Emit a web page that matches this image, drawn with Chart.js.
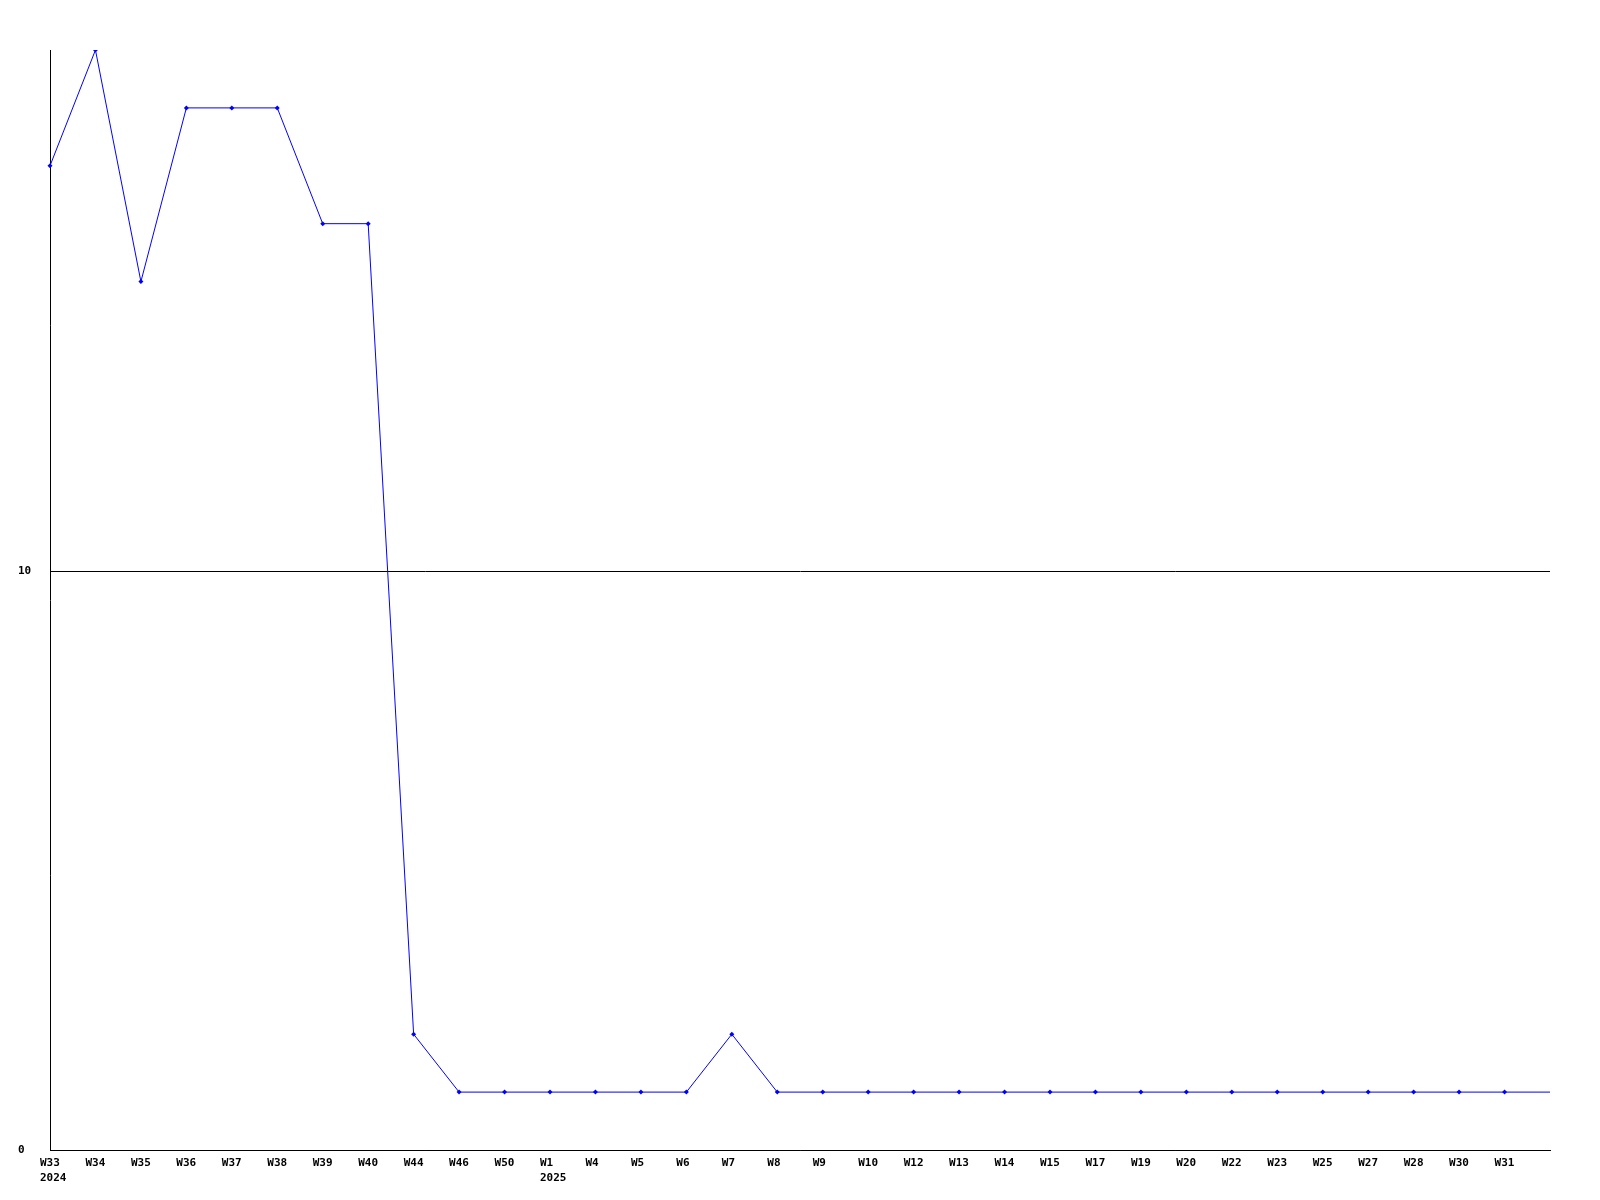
<!DOCTYPE html>
<html>
<head>
<meta charset="utf-8">
<script src="https://cdn.jsdelivr.net/npm/chart.js@4/dist/chart.umd.min.js"></script>
<style>
  body { margin: 0; background: #fff; }
  canvas { display: block; }
</style>
</head>
<body>
<canvas id="line-chart" width="1600" height="1200"></canvas>
<script>
const weeks = ["W33", "W34", "W35", "W36", "W37", "W38", "W39", "W40", "W44", "W46",
  "W50", "W1", "W4", "W5", "W6", "W7", "W8", "W9", "W10", "W12",
  "W13", "W14", "W15", "W17", "W19", "W20", "W22", "W23", "W25", "W27",
  "W28", "W30", "W31", ""];
const years = { "W33": "2024", "W1": "2025" };
const counts = [17, 19, 15, 18, 18, 18, 16, 16, 2, 1,
  1, 1, 1, 1, 1, 2, 1, 1, 1, 1,
  1, 1, 1, 1, 1, 1, 1, 1, 1, 1,
  1, 1, 1, 1];
const yTicks = [0, 10];

const labels = weeks.map(w => years[w] ? [w, years[w]] : w);
const font = { family: "'DejaVu Sans Mono', monospace", size: 11, weight: "bold", lineHeight: 1.35 };

new Chart(document.getElementById("line-chart"), {
  type: "line",
  data: {
    labels: labels,
    datasets: [
      {
        data: counts,
        borderColor: "#0000ff",
        backgroundColor: "#0000ff",
        borderWidth: 1,
        pointStyle: "rectRot",
        pointRadius: counts.map((v, i) => i === counts.length - 1 ? 0 : 2.5),
        pointBorderWidth: 0,
        tension: 0,
      },
    ],
  },
  options: {
    responsive: false,
    animation: false,
    layout: { padding: { left: 18, top: 50, right: 50, bottom: 0 } },
    plugins: { legend: { display: false }, tooltip: { enabled: false } },
    scales: {
      x: {
        grid: { display: false, drawTicks: false },
        border: { display: true, color: "#000", width: 1 },
        ticks: { color: "#000", font: font, padding: 6, maxRotation: 0, autoSkip: false,
          align: "start", labelOffset: -10 },
        afterFit: axis => { axis.height = 50; },
      },
      y: {
        min: 0,
        max: 19,
        afterBuildTicks: axis => { axis.ticks = yTicks.map(v => ({ value: v })); },
        grid: { color: "#000", drawTicks: false, lineWidth: 1 },
        border: { display: true, color: "#000", width: 1 },
        ticks: { color: "#000", font: font, crossAlign: "far", padding: 0 },
        afterFit: axis => { axis.width = 32; },
      },
    },
  },
});
</script>
</body>
</html>
